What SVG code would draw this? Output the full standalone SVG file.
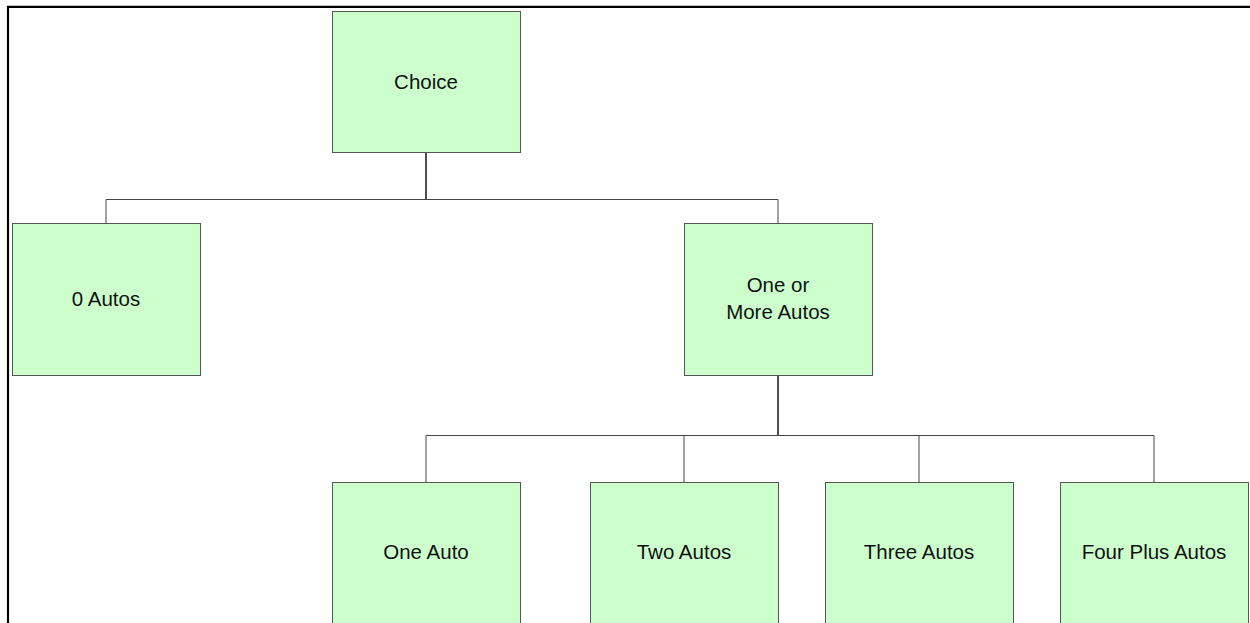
<svg xmlns="http://www.w3.org/2000/svg" width="1250" height="623" viewBox="0 0 1250 623">
<style>
.box{fill:#ccffcc;stroke:#555;stroke-width:1}
.lbl{font-family:"Liberation Sans",Arial,sans-serif;font-size:20.5px;fill:#111;text-anchor:middle}
.conn{fill:none;stroke:#444;stroke-width:1}
.trunk{fill:none;stroke:#222;stroke-width:1.6}
</style>
<rect width="1250" height="623" fill="#fff"/>
<path d="M8 623 V6.8 H1250" fill="none" stroke="#000" stroke-width="2.2"/>
<g id="connectors">
<path class="trunk" d="M426 153 V199"/>
<path class="conn" d="M106 223 V199.5 H778 V223"/>
<path class="trunk" d="M778 375 V435"/>
<path class="conn" d="M426 482 V435.5 H1154 V482 M684 435.5 V482 M919 435.5 V482"/>
</g>
<g id="choice"><rect class="box" x="332.5" y="11.5" width="188" height="141"/><text class="lbl" x="426" y="89">Choice</text></g>
<g id="zero-autos"><rect class="box" x="12.5" y="223.5" width="188" height="152"/><text class="lbl" x="106" y="306">0 Autos</text></g>
<g id="one-or-more"><rect class="box" x="684.5" y="223.5" width="188" height="152"/><text class="lbl" x="778" y="292">One or</text><text class="lbl" x="778" y="319">More Autos</text></g>
<g id="one-auto"><rect class="box" x="332.5" y="482.5" width="188" height="160"/><text class="lbl" x="426" y="559">One Auto</text></g>
<g id="two-autos"><rect class="box" x="590.5" y="482.5" width="188" height="160"/><text class="lbl" x="684" y="559">Two Autos</text></g>
<g id="three-autos"><rect class="box" x="825.5" y="482.5" width="188" height="160"/><text class="lbl" x="919" y="559">Three Autos</text></g>
<g id="four-plus-autos"><rect class="box" x="1060.5" y="482.5" width="188" height="160"/><text class="lbl" x="1154" y="559">Four Plus Autos</text></g>
</svg>
